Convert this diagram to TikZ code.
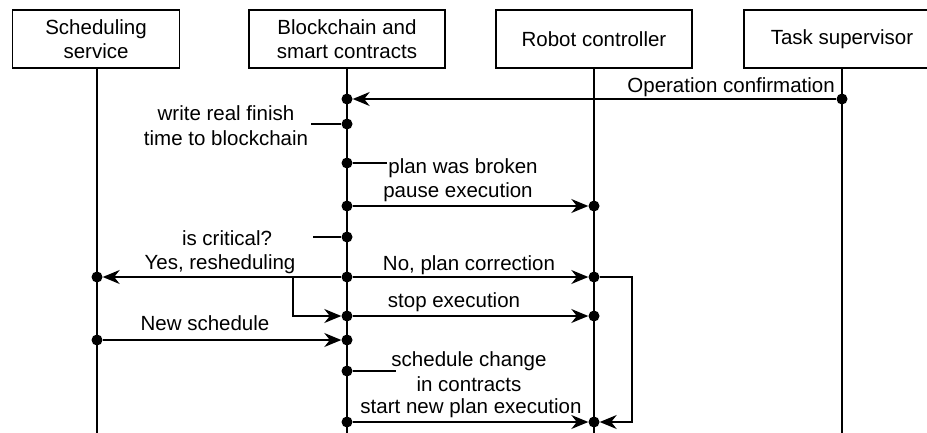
\documentclass[tikz,border=0pt]{standalone}
\usepackage{fontspec}
\setmainfont{Liberation Sans}
\usetikzlibrary{arrows.meta}
\begin{document}
\begin{tikzpicture}[x=1pt,y=-1pt,
  actor/.style={draw,line width=1.3pt,minimum width=196pt,minimum height=58pt,
    align=center,font=\fontsize{20.5}{24.5}\selectfont,inner sep=0pt},
  life/.style={line width=1.3pt},
  dot/.style={circle,fill,inner sep=0pt,minimum size=11pt},
  msg/.style={line width=1.3pt,-{Stealth[length=17pt,width=14pt,inset=5.5pt]}},
  stub/.style={line width=1.3pt},
  lbl/.style={font=\fontsize{20.5}{24.5}\selectfont,inner sep=0pt,anchor=base}]
\useasboundingbox (0,0) rectangle (927,432);

% participants
\node[actor,minimum width=167pt] (sched) at (96,39) {Scheduling\\service};
\node[actor] (chain) at (347,39) {Blockchain and\\smart contracts};
\node[actor] (robot) at (594,39) {Robot controller};
\node[actor] (task)  at (842,39) {Task supervisor};

% lifeline ends
\coordinate (schedEnd) at (97,433);
\coordinate (chainEnd) at (347,433);
\coordinate (robotEnd) at (594,433);
\coordinate (taskEnd)  at (842,433);
\draw[life] (97,68) -- (schedEnd);
\draw[life] (chain.south) -- (chainEnd);
\draw[life] (robot.south) -- (robotEnd);
\draw[life] (task.south) -- (taskEnd);

% activation points
\node[dot] (t1) at (842,99) {};
\node[dot] (c1) at (347,99) {};
\node[dot] (c2) at (347,124) {};
\node[dot] (c3) at (347,163) {};
\node[dot] (c4) at (347,206) {};
\node[dot] (r4) at (594,206) {};
\node[dot] (c5) at (347,237) {};
\node[dot] (c6) at (347,277) {};
\node[dot] (s6) at (97,277) {};
\node[dot] (r6) at (594,277) {};
\node[dot] (c7) at (347,316) {};
\node[dot] (r7) at (594,316) {};
\node[dot] (s8) at (97,340) {};
\node[dot] (c8) at (347,340) {};
\node[dot] (c9) at (347,371) {};
\node[dot] (c10) at (347,422) {};
\node[dot] (r10) at (594,422) {};

% label stubs
\coordinate (w2) at (311,124);
\coordinate (e3) at (387,163);
\coordinate (w5) at (313,237);
\coordinate (e9) at (396,371);
\draw[stub] (w2) -- (c2);
\draw[stub] (c3) -- (e3);
\draw[stub] (w5) -- (c5);
\draw[stub] (c9) -- (e9);

% messages
\draw[msg] (t1) -- (c1);
\draw[msg] (c4) -- (r4);
\draw[msg] (c6) -- (s6);
\draw[msg] (c6) -- (r6);
\coordinate (k1) at (293,277);
\coordinate (k2) at (293,316);
\draw[msg] (k1) -- (k2) -- (c7);
\draw[msg] (c7) -- (r7);
\draw[msg] (s8) -- (c8);
\draw[msg] (c10) -- (r10);
\coordinate (l1) at (632,277);
\coordinate (l2) at (632,422);
\draw[msg] (r6) -- (l1) -- (l2) -- (r10);

% labels
\node[lbl,anchor=base east] (m1) at (835,92) {Operation confirmation};
\node[lbl] (m2a) at (226,120) {write real finish};
\node[lbl] (m2b) at (226,145) {time to blockchain};
\node[lbl] (m3a) at (463,173) {plan was broken};
\node[lbl] (m3b) at (458,197) {pause execution};
\node[lbl] (m5a) at (227,245) {is critical?};
\node[lbl] (m5b) at (220,269) {Yes, resheduling};
\node[lbl] (m6) at (469,270) {No, plan correction};
\node[lbl] (m7) at (454,307) {stop execution};
\node[lbl] (m8) at (205,330) {New schedule};
\node[lbl] (m9a) at (469,366) {schedule change};
\node[lbl] (m9b) at (469,391) {in contracts};
\node[lbl] (m10) at (471,413) {start new plan execution};
\end{tikzpicture}
\end{document}
